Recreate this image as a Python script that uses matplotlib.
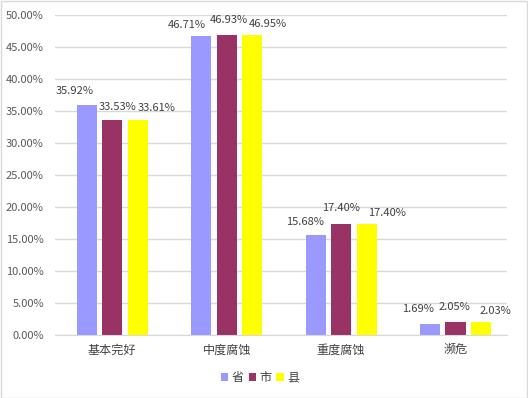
import matplotlib
matplotlib.use("Agg")
import matplotlib.pyplot as plt
from matplotlib.patches import Rectangle
import numpy as np

categories = ["基本完好", "中度腐蚀", "重度腐蚀", "濒危"]
series_names = ["省", "市", "县"]
sheng = [35.92, 46.71, 15.68, 1.69]
shi = [33.53, 46.93, 17.40, 2.05]
xian = [33.61, 46.95, 17.40, 2.03]
colors = ["#9999FF", "#993366", "#FFFF00"]

# label offsets in pixels (dx, dy above bar top), mimicking Excel's placement
label_dx = [[-12.5, -14.5, -11, -12], [5.5, 2, 0, -1], [19, 16, 20, 14]]
label_dy = [[14, 11, 13, 15], [13, 15, 16, 15], [12, 11, 11, 11]]

plt.rcParams['font.family'] = ['Noto Sans CJK SC', 'DejaVu Sans']

W, H = 528, 398
fig = plt.figure(figsize=(W / 100, H / 100), dpi=100)
fig.patch.set_facecolor("white")
fig.patches.append(Rectangle((0.5 / W, 0.5 / H), 1 - 1.5 / W, 1 - 1.5 / H,
                             transform=fig.transFigure, fill=False,
                             edgecolor="#D9D9D9", linewidth=1.0))

left, right, bottom, top = 55, 507, 335, 15
ax = fig.add_axes([left / W, (H - bottom) / H, (right - left) / W, (bottom - top) / H])

x = np.arange(len(categories))
bw = 0.175
step = 0.223
data = [sheng, shi, xian]
px2pt = 72 / 100
for i, (vals, c) in enumerate(zip(data, colors)):
    xs = x + (i - 1) * step
    ax.bar(xs, vals, width=bw, color=c, zorder=3, label=series_names[i])
    for j, v in enumerate(vals):
        ax.annotate(f"{v:.2f}%", (xs[j], v),
                    xytext=(label_dx[i][j] * px2pt, label_dy[i][j] * px2pt),
                    textcoords="offset points", ha="center", va="center",
                    fontsize=8, color="#404040", zorder=4)

ax.set_xlim(-0.5, 3.45)
ax.set_ylim(0, 50)
ax.set_yticks(np.arange(0, 50.1, 5))
ax.set_yticklabels([f"{t:.2f}%" for t in np.arange(0, 50.1, 5)])
ax.set_xticks(x)
ax.set_xticklabels(categories, fontsize=8.7, color="#404040")
ax.tick_params(axis="y", length=0, labelsize=8, labelcolor="#595959", pad=8)
ax.tick_params(axis="x", length=0, pad=6)
ax.grid(axis="y", color="#D9D9D9", linewidth=1.0, zorder=0)
for s in ["top", "right", "left"]:
    ax.spines[s].set_visible(False)
ax.spines["bottom"].set_color("#D9D9D9")
ax.spines["bottom"].set_zorder(5)

leg = fig.legend(loc="center", bbox_to_anchor=(260 / W, (H - 378) / H), ncol=3,
                 frameon=False, fontsize=8.7, handlelength=0.6, handleheight=0.6,
                 handletextpad=0.3, columnspacing=0.4, labelcolor="#404040")

fig.savefig("out.png", dpi=100, facecolor="white")
